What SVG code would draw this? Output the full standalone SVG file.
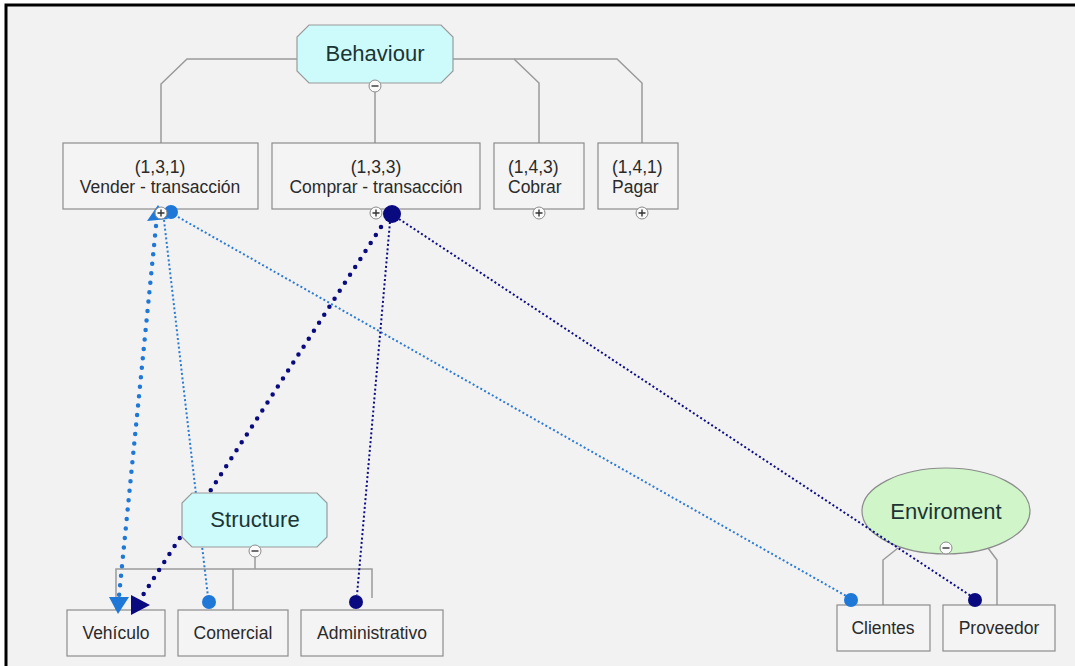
<svg xmlns="http://www.w3.org/2000/svg" width="1075" height="666" viewBox="0 0 1075 666">
  <defs>
    <style>
      .box { fill: #f4f4f4; stroke: #8c8c8c; stroke-width: 1.2; }
      .oct { fill: #cdfbfc; stroke: #9a9a9a; stroke-width: 1.2; }
      .ell { fill: #cff5c9; stroke: #8c8c8c; stroke-width: 1.2; }
      .tree { fill: none; stroke: #9a9a9a; stroke-width: 1.5; }
      .lbl { font-family: "Liberation Sans", Arial, sans-serif; font-size: 17.5px; fill: #2a2a2a; }
      .title { font-family: "Liberation Sans", Arial, sans-serif; font-size: 22px; fill: #1c3434; text-anchor: middle; }
      .mid { text-anchor: middle; }
      .thin-blue { fill: none; stroke: #2a7bd6; stroke-width: 2; stroke-dasharray: 2 2.4; }
      .thin-navy { fill: none; stroke: #0c0c86; stroke-width: 2; stroke-dasharray: 2 2.4; }
      .thick-blue { fill: none; stroke: #1f78d8; stroke-width: 4.5; stroke-linecap: round; stroke-dasharray: 0 9.5; }
      .thick-navy { fill: none; stroke: #0a0a80; stroke-width: 4.5; stroke-linecap: round; stroke-dasharray: 0 9.5; }
      .tog { fill: #fafafa; stroke: #8c8c8c; stroke-width: 1; }
      .tog-mark { stroke: #333; stroke-width: 1.4; fill: none; }
    </style>
  </defs>

  <!-- canvas and frame -->
  <rect x="0" y="0" width="1075" height="666" fill="#ffffff"/>
  <rect x="6" y="5" width="1090" height="680" fill="#f2f2f2" stroke="#000" stroke-width="3"/>

  <!-- hierarchy links -->
  <g id="tree-links" class="tree">
    <polyline points="297,59 187,59 161,84 161,143"/>
    <line x1="375" y1="92" x2="375" y2="143"/>
    <polyline points="453,59 617,59 642,83 642,143"/>
    <polyline points="514,59 539,83 539,143"/>
    <polyline points="255,557 255,569"/>
    <polyline points="116,610 116,569 372,569 372,598"/>
    <line x1="233" y1="569" x2="233" y2="610"/>
    <polyline points="898,548 883,560 883,605"/>
    <polyline points="988,548 997,560 997,605"/>
  </g>

  <!-- nodes -->
  <g id="behaviour">
    <polygon class="oct" points="309,25 441,25 453,37 453,71 441,83 309,83 297,71 297,37"/>
    <text class="title" x="375" y="61">Behaviour</text>
  </g>
  <g id="vender">
    <rect class="box" x="63" y="143" width="195" height="66"/>
    <text class="lbl mid" x="160" y="173">(1,3,1)</text>
    <text class="lbl mid" x="160" y="193">Vender - transacción</text>
  </g>
  <g id="comprar">
    <rect class="box" x="272" y="143" width="208" height="66"/>
    <text class="lbl mid" x="376" y="173">(1,3,3)</text>
    <text class="lbl mid" x="376" y="193">Comprar - transacción</text>
  </g>
  <g id="cobrar">
    <rect class="box" x="494" y="143" width="90" height="66"/>
    <text class="lbl" x="508" y="173">(1,4,3)</text>
    <text class="lbl" x="508" y="193">Cobrar</text>
  </g>
  <g id="pagar">
    <rect class="box" x="598" y="143" width="80" height="66"/>
    <text class="lbl" x="612" y="173">(1,4,1)</text>
    <text class="lbl" x="612" y="193">Pagar</text>
  </g>
  <g id="vehiculo">
    <rect class="box" x="67" y="610" width="98" height="46"/>
    <text class="lbl mid" x="116" y="639">Vehículo</text>
  </g>
  <g id="comercial">
    <rect class="box" x="178" y="610" width="110" height="46"/>
    <text class="lbl mid" x="233" y="639">Comercial</text>
  </g>
  <g id="administrativo">
    <rect class="box" x="301" y="610" width="142" height="46"/>
    <text class="lbl mid" x="372" y="639">Administrativo</text>
  </g>
  <g id="clientes">
    <rect class="box" x="837" y="605" width="93" height="46"/>
    <text class="lbl mid" x="883" y="634">Clientes</text>
  </g>
  <g id="proveedor">
    <rect class="box" x="943" y="605" width="112" height="46"/>
    <text class="lbl mid" x="999" y="634">Proveedor</text>
  </g>
  <g id="enviroment">
    <ellipse class="ell" cx="946" cy="511" rx="84" ry="43"/>
    <text class="title" x="946" y="519" font-size="23">Enviroment</text>
  </g>

  <!-- relations -->
  <g id="connectors">
    <!-- Vender - transacción -->
    <line class="thick-blue" x1="156" y1="226" x2="119" y2="596"/>
    <line class="thin-blue" x1="164" y1="220" x2="208" y2="597"/>
    <line class="thin-blue" x1="178" y1="217" x2="848" y2="597"/>
    <polygon fill="#1f78d8" points="147,221 158,205 168,219"/>
    <circle fill="#1f78d8" cx="171" cy="212" r="7"/>
    <polygon fill="#1f78d8" points="109,597 129,597 118,614"/>
    <circle fill="#1f78d8" cx="209" cy="602" r="7"/>
    <circle fill="#1f78d8" cx="851" cy="600" r="7"/>
    <!-- Comprar - transacción -->
    <line class="thick-navy" x1="381" y1="227" x2="141" y2="598"/>
    <line class="thin-navy" x1="390" y1="222" x2="357" y2="595"/>
    <line class="thin-navy" x1="399" y1="219" x2="971" y2="596"/>
    <circle fill="#0a0a80" cx="392" cy="214" r="9"/>
    <polygon fill="#0a0a80" points="131,595 150,605 131,615"/>
    <circle fill="#0a0a80" cx="356" cy="602" r="7"/>
    <circle fill="#0a0a80" cx="975" cy="600" r="7"/>
  </g>

  <g id="structure">
    <polygon class="oct" points="192,493 317,493 327,503 327,537 317,547 192,547 182,537 182,503"/>
    <text class="title" x="255" y="527">Structure</text>
  </g>

  <!-- expand / collapse toggles -->
  <g id="toggles">
    <circle class="tog" cx="375" cy="86" r="6"/>
    <line class="tog-mark" x1="371.5" y1="86" x2="378.5" y2="86"/>
    <circle class="tog" cx="255" cy="551" r="6"/>
    <line class="tog-mark" x1="251.5" y1="551" x2="258.5" y2="551"/>
    <circle class="tog" cx="946" cy="548" r="6"/>
    <line class="tog-mark" x1="942.5" y1="548" x2="949.5" y2="548"/>
    <circle class="tog" cx="161" cy="213" r="6"/>
    <path class="tog-mark" d="M157.5,213 H164.5 M161,209.5 V216.5"/>
    <circle class="tog" cx="376" cy="213" r="6"/>
    <path class="tog-mark" d="M372.5,213 H379.5 M376,209.5 V216.5"/>
    <circle class="tog" cx="539" cy="213" r="6"/>
    <path class="tog-mark" d="M535.5,213 H542.5 M539,209.5 V216.5"/>
    <circle class="tog" cx="642" cy="213" r="6"/>
    <path class="tog-mark" d="M638.5,213 H645.5 M642,209.5 V216.5"/>
  </g>
</svg>
